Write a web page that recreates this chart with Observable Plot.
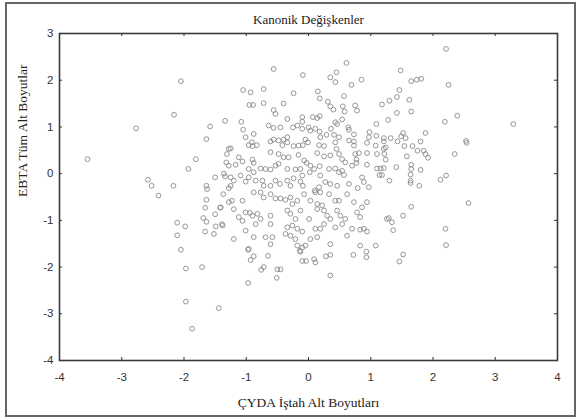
<!DOCTYPE html>
<html><head><meta charset="utf-8">
<script src="https://cdn.jsdelivr.net/npm/d3@7"></script>
<script src="https://cdn.jsdelivr.net/npm/@observablehq/plot@0.6"></script>
<style>
body{margin:0;background:#fff;}
#wrap{position:relative;width:581px;height:420px;overflow:hidden;}
#wrap svg{position:absolute;left:0;top:0;}
#border{position:absolute;left:5px;top:2px;width:567px;height:411px;border:2px solid #666;pointer-events:none;z-index:2;}
</style></head><body><div id="wrap"><div id="border"></div></div>
<script>
const title = "Kanonik Değişkenler";
const xLabel = "ÇYDA İştah Alt Boyutları";
const yLabel = "EBTA Tüm Alt Boyutlar";
const xTicks = [-4, -3, -2, -1, 0, 1, 2, 3, 4];
const yTicks = [-4, -3, -2, -1, 0, 1, 2, 3];

// ÇYDA İştah Alt Boyutları (x) values
const cydaIstah = [
-2.05,-2.16,-2.77,-1.34,-1.58,-1.64,
-3.55,-1.81,-1.93,-1.32,-1.36,-1.34,-1.28,-2.58,-2.52,-2.41,-2.17,-1.50,-1.64,-1.63,-1.28,-1.64,-1.66,-1.42,-1.50,-1.69,-1.64,-1.28,-2.11,-1.98,-2.11,-1.66,-1.49,-1.38,-1.52,-2.05,
-1.97,-1.71,-1.97,-1.44,-1.87,
-0.97,-0.93,-0.88,-0.65,-0.76,-0.72,-0.50,-0.45,-0.51,-0.97,-0.14,-0.10,-0.04,0.09,0.11,0.28,0.35,0.35,0.72,0.93,0.93,
1.46,1.52,
2.53,2.54,2.35,1.21,1.22,1.54,1.58,1.67,1.75,1.85,1.88,1.92,1.80,1.43,1.21,1.18,1.41,1.65,1.65,1.64,1.64,1.64,1.80,1.78,1.30,2.12,2.21,2.57,1.65,1.52,1.29,1.34,1.36,2.20,2.21,
2.21,1.48,1.65,1.74,1.81,2.25,1.46,1.42,1.30,1.18,1.62,1.42,1.65,1.28,2.19,2.39,3.29,1.88,1.52,1.56,1.49,1.21,1.32,
0.61,-0.56,-0.09,0.45,0.35,0.43,0.85,0.69,-1.05,-0.93,-0.72,-0.24,0.15,0.18,0.57,-0.95,-0.89,-0.72,-0.40,0.31,0.35,0.40,0.55,0.58,0.75,0.78,
-1.08,-0.56,-0.53,-0.34,-0.10,-0.10,0.07,0.14,0.18,0.43,0.46,0.54,1.09,
-1.05,-1.01,-0.88,-0.64,-0.56,-0.45,-0.25,-0.18,-0.10,0.00,0.03,0.11,0.18,0.29,0.36,0.41,0.49,0.64,0.65,0.73,0.98,1.09,0.97,
-0.56,-0.40,-0.34,-0.05,0.19,-0.91,
-1.25,-0.96,-0.90,-0.83,-0.61,-0.48,-0.42,-0.34,-0.24,-0.16,-0.09,-0.01,0.17,0.25,0.43,0.45,0.65,0.73,0.73,0.94,1.08,1.21,1.24,
-1.31,-1.12,-1.06,-0.90,-0.88,-0.61,-0.48,-0.40,-0.32,-0.16,-0.07,-0.03,0.03,0.14,0.25,0.35,0.49,0.54,0.59,0.75,0.81,0.77,0.77,0.94,1.10,1.24,
-1.28,-1.17,-0.96,-0.88,-0.77,-0.69,-0.61,-0.53,-0.48,-0.34,-0.21,-0.13,-0.10,0.02,0.09,0.18,0.19,0.33,0.43,0.49,0.54,0.57,0.70,0.86,0.94,1.10,1.16,1.14,
-1.25,-1.20,-1.25,-1.09,-1.01,-0.96,-0.85,-0.74,-0.72,-0.61,-0.53,-0.46,-0.34,-0.29,-0.24,-0.13,-0.09,0.10,0.17,0.27,0.35,0.46,0.65,0.79,0.89,0.97,
-1.37,-1.23,-1.06,-0.88,-0.77,-0.72,-0.61,-0.53,-0.45,-0.37,-0.29,-0.26,-0.18,-0.07,0.03,0.11,0.14,0.19,0.33,0.43,0.49,0.62,0.73,0.86,0.94,
-1.41,-1.20,-1.12,-1.01,-0.94,-0.90,-0.82,-0.77,-0.61,-0.34,-0.29,-0.21,-0.13,0.01,0.14,0.22,0.25,0.30,0.35,0.46,0.51,0.59,0.78,0.83,1.26,
-1.39,-1.06,-1.01,-0.85,-0.61,-0.34,-0.26,-0.18,-0.10,0.11,0.19,0.25,0.43,0.54,0.70,0.83,0.89,0.94,
-1.20,-0.88,-0.69,-0.58,-0.61,-0.37,-0.29,-0.21,-0.18,-0.10,0.03,0.14,0.35,0.62,0.83,1.08,-0.96,-0.13,-0.05
];

// EBTA Tüm Alt Boyutlar (y) values
const ebtaTum = [
1.98,1.26,0.97,1.13,1.01,0.74,
0.31,0.31,0.10,0.24,0.00,-0.06,0.53,-0.13,-0.26,-0.47,-0.26,-0.08,-0.26,-0.33,-0.31,-0.56,-0.73,-0.73,-0.87,-0.95,-1.03,-0.61,-1.05,-1.13,-1.32,-1.24,-1.13,-1.11,-1.29,-1.63,
-2.03,-2.00,-2.74,-2.88,-3.32,
-1.63,-1.85,-1.77,-1.76,-2.06,-2.00,-2.05,-2.05,-2.23,-2.34,-1.65,-1.87,-1.87,-1.83,-1.90,-1.77,-1.74,-2.18,-1.74,-1.67,-1.79,
-1.88,-1.73,
0.70,0.66,0.42,0.53,0.42,0.59,0.37,0.59,0.49,0.49,0.42,0.34,0.69,0.69,0.12,-0.03,0.14,0.19,0.10,-0.02,-0.15,-0.20,0.08,-0.26,-0.15,-0.13,-0.04,-0.63,-0.71,-0.90,-0.95,-1.04,-1.21,-1.18,-1.53,
2.67,2.21,1.98,2.01,2.03,1.90,1.79,1.64,1.56,1.48,1.58,1.30,1.33,1.15,1.11,1.24,1.06,0.87,0.87,0.76,0.80,0.76,0.76,
2.37,2.24,2.11,2.17,2.06,1.96,2.01,1.90,1.79,1.74,1.81,1.72,1.76,1.61,1.66,1.47,1.47,1.51,1.50,1.54,1.44,1.37,1.44,1.33,1.46,1.35,
1.11,1.36,1.28,1.17,1.21,1.11,1.21,1.19,1.23,1.10,1.06,1.16,1.06,
0.94,0.78,0.85,1.03,0.98,0.99,0.99,1.03,0.96,0.99,0.92,0.96,0.90,0.83,0.96,0.83,0.78,0.99,0.94,0.84,0.89,0.81,0.78,
0.73,0.73,0.78,0.73,0.78,0.67,
0.54,0.61,0.59,0.61,0.69,0.71,0.61,0.67,0.59,0.60,0.61,0.67,0.61,0.59,0.67,0.53,0.71,0.69,0.60,0.66,0.60,0.69,0.56,
0.42,0.35,0.26,0.30,0.23,0.46,0.42,0.35,0.35,0.40,0.28,0.23,0.17,0.44,0.37,0.39,0.42,0.31,0.24,0.42,0.44,0.30,0.23,0.44,0.42,0.30,
0.17,0.19,0.10,0.03,0.11,0.10,0.09,0.17,0.21,0.10,0.09,0.10,-0.04,0.03,0.10,0.16,-0.04,0.10,0.11,0.03,0.06,-0.03,0.17,-0.08,0.19,0.11,0.11,-0.03,
-0.08,-0.15,-0.26,-0.04,-0.17,-0.08,-0.15,-0.15,-0.26,-0.26,-0.15,-0.22,-0.15,-0.26,-0.10,-0.17,-0.26,-0.36,-0.29,-0.18,-0.22,-0.26,-0.22,-0.31,-0.18,-0.29,
-0.44,-0.58,-0.58,-0.40,-0.40,-0.51,-0.44,-0.53,-0.53,-0.56,-0.51,-0.65,-0.58,-0.44,-0.58,-0.40,-0.65,-0.40,-0.44,-0.58,-0.58,-0.44,-0.61,-0.72,-0.61,
-0.72,-0.76,-0.93,-0.83,-0.84,-0.90,-0.86,-0.97,-0.90,-0.79,-0.86,-0.97,-0.79,-0.97,-0.76,-0.68,-0.79,-0.90,-0.97,-0.79,-0.90,-0.97,-0.83,-0.93,-0.97,
-1.08,-1.01,-1.22,-1.08,-1.08,-1.15,-1.11,-1.18,-1.24,-1.18,-1.18,-1.08,-1.15,-1.08,-1.18,-1.20,-1.18,-1.24,
-1.40,-1.36,-1.36,-1.36,-1.51,-1.29,-1.33,-1.40,-1.54,-1.58,-1.40,-1.36,-1.51,-1.33,-1.54,-1.54,-1.61,-1.67,-1.54
];

const points = cydaIstah.map((x, i) => ({x, y: ebtaTum[i]}));
const serif = "'Liberation Serif', 'Times New Roman', serif";

const chart = Plot.plot({
  width: 581,
  height: 420,
  marginLeft: 59,
  marginRight: 24,
  marginTop: 33,
  marginBottom: 60,
  x: {domain: [-4, 4]},
  y: {domain: [-4, 3]},
  style: {background: "transparent", fontFamily: "'Liberation Sans', Arial, sans-serif", fontSize: "11px", color: "#333"},
  marks: [
    Plot.axisX(xTicks, {anchor: "bottom", tickSize: 0, tickPadding: 12, label: null, fontSize: 11.5, tickFormat: d => String(d)}),
    Plot.axisY(yTicks, {anchor: "left", tickSize: 0, tickPadding: 6, label: null, fontSize: 11.5, tickFormat: d => String(d)}),
    Plot.tickX(xTicks, {x: d => d, insetTop: 324, stroke: "#333"}),
    Plot.tickX(xTicks, {x: d => d, insetBottom: 324, stroke: "#333"}),
    Plot.tickY(yTicks, {y: d => d, insetRight: 495, stroke: "#333"}),
    Plot.tickY(yTicks, {y: d => d, insetLeft: 495, stroke: "#333"}),
    Plot.dot(points, {x: "x", y: "y", r: 2.4, stroke: "#8a8a8a", strokeWidth: 0.9, fill: "none"}),
    Plot.frame({stroke: "#3a3a3a", strokeWidth: 1.6}),
    Plot.text([title], {frameAnchor: "top", dy: -19, fontFamily: serif, fontSize: 13, fill: "#222"}),
    Plot.text([xLabel], {frameAnchor: "bottom", dy: 46, fontFamily: serif, fontSize: 13.5, fill: "#222"}),
    Plot.text([yLabel], {frameAnchor: "left", dx: -37, rotate: -90, fontFamily: serif, fontSize: 13.5, fill: "#222"})
  ]
});
document.getElementById("wrap").appendChild(chart);
</script>
</body></html>
